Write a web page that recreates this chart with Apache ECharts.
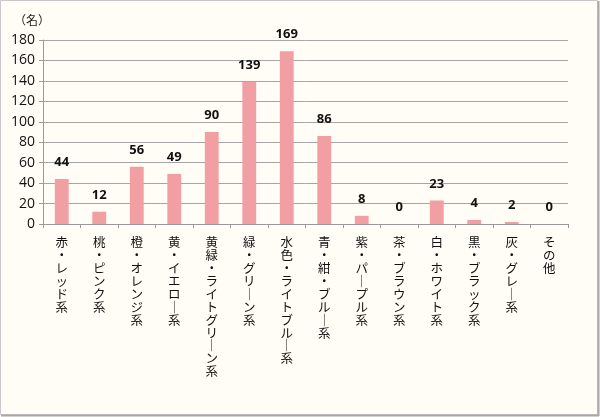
<!DOCTYPE html>
<html>
<head>
<meta charset="utf-8">
<script src="https://cdn.jsdelivr.net/npm/echarts@6/dist/echarts.min.js"></script>
<style>
html, body { margin: 0; padding: 0; background: #fff; }
#chart { width: 600px; height: 417px; }
</style>
</head>
<body>
<div id="chart"></div>
<script>
// 色の系統ごとの人数
var categories = ['赤・レッド系', '桃・ピンク系', '橙・オレンジ系', '黄・イエロー系', '黄緑・ライトグリーン系',
	'緑・グリーン系', '水色・ライトブルー系', '青・紺・ブルー系', '紫・パープル系', '茶・ブラウン系',
	'白・ホワイト系', '黒・ブラック系', '灰・グレー系', 'その他'];
var counts = [44, 12, 56, 49, 90, 139, 169, 86, 8, 0, 23, 4, 2, 0];
var yTicks = { min: 0, max: 180, interval: 20 };

var myChart = echarts.init(document.getElementById('chart'));

// 縦書き風に1文字ずつ改行（長音は縦棒に）
function vertical(s) {
	return s.split('').map(function (c) {
		return c === 'ー' ? '｜' : c;
	}).join('\n');
}

var option = {
	backgroundColor: '#FFFDF6',
	animation: false,
	graphic: [
		{ type: 'rect', shape: { x: 0.5, y: 0.5, width: 597, height: 414 },
			style: { fill: 'none', stroke: '#C8C8C8', lineWidth: 1 } },
		{ type: 'line', shape: { x1: 598.5, y1: 1, x2: 598.5, y2: 416 },
			style: { stroke: '#A8A8A8', lineWidth: 2 } },
		{ type: 'line', shape: { x1: 1, y1: 415.5, x2: 599, y2: 415.5 },
			style: { stroke: '#A8A8A8', lineWidth: 2 } },
		{ type: 'text', left: 14, top: 14,
			style: { text: '（名）', fontSize: 12, fill: '#222', fontFamily: 'Noto Sans CJK JP' } }
	],
	grid: { left: 43, right: 32, top: 40, bottom: 193, containLabel: false },
	xAxis: {
		type: 'category',
		data: categories,
		axisLine: { lineStyle: { color: '#999', width: 1 } },
		axisTick: { show: true, length: 4, alignWithLabel: false, lineStyle: { color: '#999' } },
		axisLabel: {
			interval: 0,
			margin: 12,
			color: '#111',
			fontSize: 12.5,
			lineHeight: 12.9,
			fontFamily: 'Noto Sans CJK JP',
			verticalAlign: 'top',
			formatter: vertical
		}
	},
	yAxis: {
		type: 'value',
		min: yTicks.min,
		max: yTicks.max,
		interval: yTicks.interval,
		axisLine: { show: true, lineStyle: { color: '#999', width: 1 } },
		axisTick: { show: true, length: 4, lineStyle: { color: '#999' } },
		axisLabel: { color: '#111', fontSize: 14, margin: 8, fontFamily: 'Open Sans' },
		splitLine: { lineStyle: { color: '#A6A6A6', width: 1 } }
	},
	series: [
		{
			name: '人数',
			type: 'bar',
			data: counts,
			barWidth: '37%',
			itemStyle: { color: '#F29FA4' },
			label: {
				show: true,
				position: 'top',
				distance: 10,
				color: '#111',
				fontSize: 13,
				fontWeight: 'bold',
				fontFamily: 'Open Sans'
			}
		}
	]
};
myChart.setOption(option);
</script>
</body>
</html>
